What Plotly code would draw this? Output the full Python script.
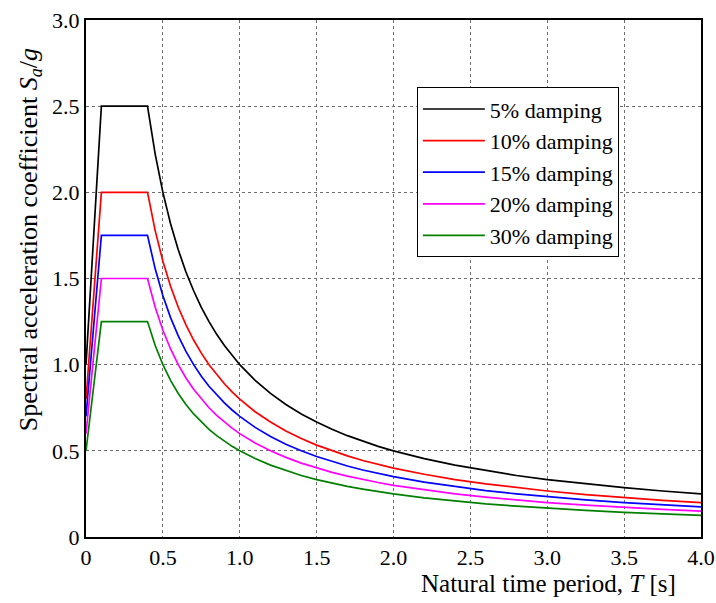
import plotly.graph_objects as go

# Natural time period T [s]
period = [0, 0.1, 0.4, 0.45, 0.5, 0.55, 0.6, 0.65, 0.7, 0.75, 0.8, 0.85, 0.9, 0.95,
          1.0, 1.1, 1.2, 1.3, 1.4, 1.5, 1.6, 1.7, 1.8, 1.9, 2.0,
          2.2, 2.4, 2.6, 2.8, 3.0, 3.25, 3.5, 3.75, 4.0]

# Spectral acceleration coefficient Sa/g
sa_5 = [1.0, 2.5, 2.5, 2.222, 2.0, 1.818, 1.667, 1.538, 1.429, 1.333, 1.25, 1.176, 1.111, 1.053,
        1.0, 0.909, 0.833, 0.769, 0.714, 0.667, 0.625, 0.588, 0.556, 0.526, 0.5,
        0.455, 0.417, 0.385, 0.357, 0.333, 0.308, 0.286, 0.267, 0.25]
sa_10 = [0.8, 2.0, 2.0, 1.778, 1.6, 1.455, 1.333, 1.231, 1.143, 1.067, 1.0, 0.941, 0.889, 0.842,
         0.8, 0.727, 0.667, 0.615, 0.571, 0.533, 0.5, 0.471, 0.444, 0.421, 0.4,
         0.364, 0.333, 0.308, 0.286, 0.267, 0.246, 0.229, 0.213, 0.2]
sa_15 = [0.7, 1.75, 1.75, 1.556, 1.4, 1.273, 1.167, 1.077, 1.0, 0.933, 0.875, 0.824, 0.778, 0.737,
         0.7, 0.636, 0.583, 0.538, 0.5, 0.467, 0.438, 0.412, 0.389, 0.368, 0.35,
         0.318, 0.292, 0.269, 0.25, 0.233, 0.215, 0.2, 0.187, 0.175]
sa_20 = [0.6, 1.5, 1.5, 1.333, 1.2, 1.091, 1.0, 0.923, 0.857, 0.8, 0.75, 0.706, 0.667, 0.632,
         0.6, 0.545, 0.5, 0.462, 0.429, 0.4, 0.375, 0.353, 0.333, 0.316, 0.3,
         0.273, 0.25, 0.231, 0.214, 0.2, 0.185, 0.171, 0.16, 0.15]
sa_30 = [0.5, 1.25, 1.25, 1.111, 1.0, 0.909, 0.833, 0.769, 0.714, 0.667, 0.625, 0.588, 0.556, 0.526,
         0.5, 0.455, 0.417, 0.385, 0.357, 0.333, 0.313, 0.294, 0.278, 0.263, 0.25,
         0.227, 0.208, 0.192, 0.179, 0.167, 0.154, 0.143, 0.133, 0.125]

series_names = ["5% damping", "10% damping", "15% damping", "20% damping", "30% damping"]
series_values = [sa_5, sa_10, sa_15, sa_20, sa_30]
series_colors = ["#000000", "#ff0000", "#0000ff", "#ff00ff", "#008000"]

x_tick_vals = [0, 0.5, 1.0, 1.5, 2.0, 2.5, 3.0, 3.5, 4.0]
x_tick_text = ["0", "0.5", "1.0", "1.5", "2.0", "2.5", "3.0", "3.5", "4.0"]
y_tick_vals = [0, 0.5, 1.0, 1.5, 2.0, 2.5, 3.0]
y_tick_text = ["0", "0.5", "1.0", "1.5", "2.0", "2.5", "3.0"]

FONT = "Liberation Serif"

fig = go.Figure()
for name, vals, col in zip(series_names, series_values, series_colors):
    fig.add_trace(go.Scatter(x=period, y=vals, mode="lines", name=name,
                             line=dict(color=col, width=1.7)))

axis_common = dict(
    showline=True, linecolor="black", linewidth=2, mirror=True,
    showgrid=True, gridcolor="#6e6e6e", gridwidth=1, griddash="dot",
    zeroline=False, ticks="", automargin=False,
    tickfont=dict(family=FONT, size=22, color="black"),
)

fig.update_layout(
    width=716, height=603,
    margin=dict(l=86, r=14.5, t=20, b=66),
    paper_bgcolor="white", plot_bgcolor="white",
    font=dict(family=FONT, color="black"),
    showlegend=True,
    legend=dict(x=0.538, y=0.870, xanchor="left", yanchor="top",
                bgcolor="white", bordercolor="black", borderwidth=1,
                font=dict(family=FONT, size=22, color="black"),
                itemwidth=62),
    xaxis=dict(range=[0, 4], tickvals=x_tick_vals, ticktext=x_tick_text, **axis_common),
    yaxis=dict(range=[0, 3], tickvals=y_tick_vals, ticktext=y_tick_text, **axis_common),
)

fig.add_annotation(xref="paper", yref="paper", x=0.962, y=-0.09,
                   xanchor="right", yanchor="middle", showarrow=False,
                   text="Natural time period, <i>T</i> [s]",
                   font=dict(family=FONT, size=25, color="black"))
fig.add_annotation(xref="paper", yref="paper", x=-0.091, y=0.574,
                   xanchor="center", yanchor="middle", showarrow=False, textangle=-90,
                   text="Spectral acceleration coefficient <i>S</i><sub><i>a</i></sub>/<i>g</i>",
                   font=dict(family=FONT, size=26, color="black"))

fig.write_html("out.html", config={"displayModeBar": False},
               post_script="document.body.style.margin='0';")
